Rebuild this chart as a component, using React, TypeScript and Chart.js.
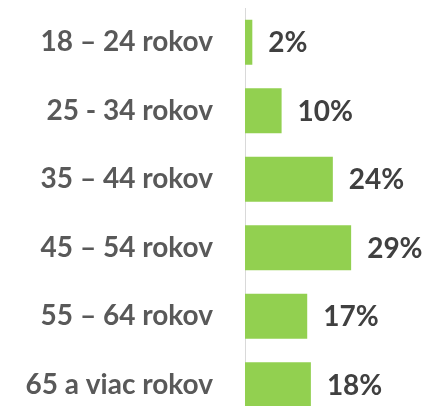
import React, { useEffect, useRef } from "react";
import { Chart, registerables } from "chart.js";

Chart.register(...registerables);

const categories = ["18 – 24 rokov", "25 - 34 rokov", "35 – 44 rokov", "45 – 54 rokov", "55 – 64 rokov", "65 a viac rokov"];
const values = [2, 10, 24, 29, 17, 18];
const valueLabels = ["2%", "10%", "24%", "29%", "17%", "18%"];

const FONT = "Lato";

const dataLabelPlugin = {
  id: "dataLabels",
  afterDatasetsDraw(chart: any) {
    const ctx = chart.ctx;
    const meta = chart.getDatasetMeta(0);
    ctx.save();
    ctx.font = `bold 28px ${FONT}`;
    ctx.fillStyle = "#404040";
    ctx.textAlign = "left";
    ctx.textBaseline = "middle";
    meta.data.forEach((bar: any, i: number) => {
      ctx.fillText(valueLabels[i], bar.x + 16, bar.y + 1);
    });
    ctx.restore();
  },
};

export default function App() {
  const ref = useRef<HTMLCanvasElement>(null);
  useEffect(() => {
    if (!ref.current) return;
    const chart = new Chart(ref.current, {
      type: "bar",
      data: {
        labels: categories,
        datasets: [
          {
            data: values,
            backgroundColor: "#92D050",
            categoryPercentage: 1,
            barPercentage: 0.657,
          },
        ],
      },
      options: {
        indexAxis: "y",
        responsive: false,
        animation: false,
        layout: { padding: { top: 8, bottom: 1, left: 0, right: 0 } },
        plugins: { legend: { display: false }, tooltip: { enabled: false } },
        scales: {
          x: { display: false, min: 0, max: 50 },
          y: {
            afterFit: (s: any) => {
              s.width = 245;
              s.paddingTop = 0;
              s.paddingBottom = 0;
            },
            grid: { display: false, drawTicks: false },
            border: { display: true, color: "#d9d9d9", width: 1 },
            ticks: {
              padding: 32,
              color: "#595959",
              font: { family: FONT, size: 28, weight: "bold" },
            },
          },
        },
      },
      plugins: [dataLabelPlugin],
    });
    return () => chart.destroy();
  }, []);
  return (
    <div style={{ position: "fixed", left: 0, top: 0, width: 428, height: 406, overflow: "hidden", background: "#fff" }}>
      <canvas ref={ref} width={428} height={420} style={{ display: "block" }} />
    </div>
  );
}
